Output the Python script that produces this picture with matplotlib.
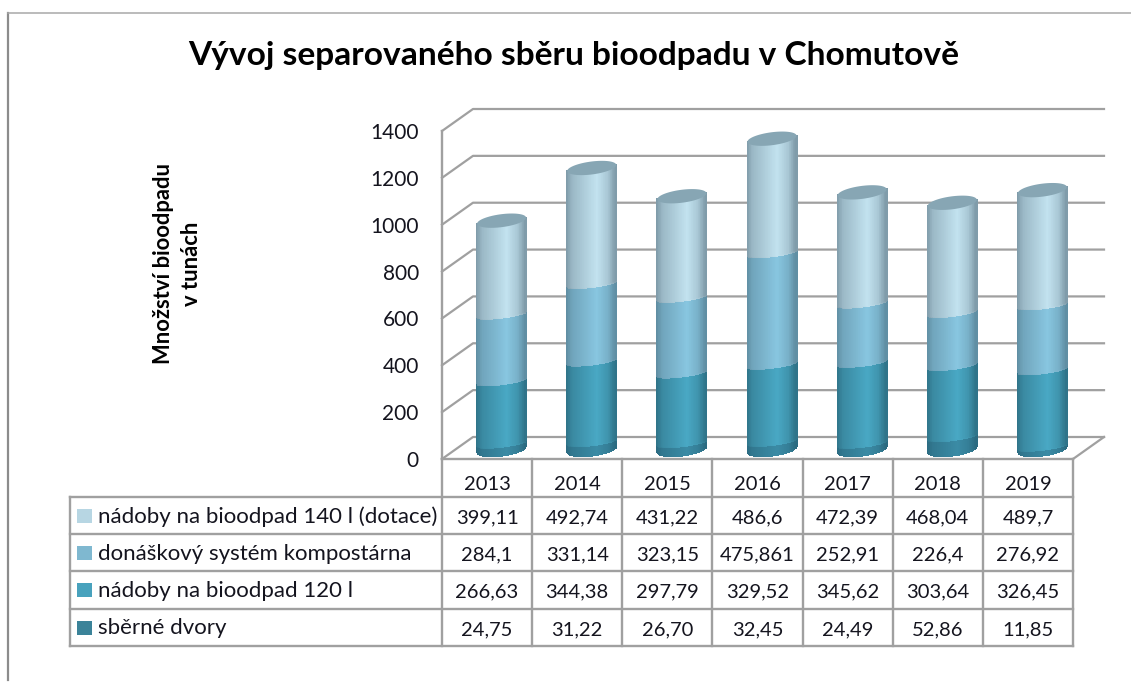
import numpy as np
import matplotlib
matplotlib.use('Agg')
import matplotlib.pyplot as plt
from matplotlib.colors import LinearSegmentedColormap

plt.rcParams['font.family'] = ['Lato', 'DejaVu Sans']

years = ['2013', '2014', '2015', '2016', '2017', '2018', '2019']
# table text, the bars are read from the same strings
dotace_140 = ['399,11', '492,74', '431,22', '486,6', '472,39', '468,04', '489,7']
kompostarna = ['284,1', '331,14', '323,15', '475,861', '252,91', '226,4', '276,92']
nadoby_120 = ['266,63', '344,38', '297,79', '329,52', '345,62', '303,64', '326,45']
sberne_dvory = ['24,75', '31,22', '26,70', '32,45', '24,49', '52,86', '11,85']

# top row of the table first
rows = [dotace_140, kompostarna, nadoby_120, sberne_dvory]
row_names = ['nádoby na bioodpad 140 l (dotace)', 'donáškový systém kompostárna',
             'nádoby na bioodpad 120 l', 'sběrné dvory']
swatches = ['#b7d6e3', '#7fb8d0', '#48a2bd', '#3b8399']
# edge colour, mid colour of each cylinder band
shades = [('#7e9aa8', '#c2e2ef'), ('#5f8da2', '#88c6e0'),
          ('#2f7388', '#49a8c4'), ('#2b6a80', '#3b8ba5')]

W, H = 1131, 698
GRID = '#a0a0a0'

fig = plt.figure(figsize=(W / 100, H / 100), dpi=100)

# page overlay in pixels, for the frame and the table
page = fig.add_axes([0, 0, 1, 1])
page.set_xlim(0, W)
page.set_ylim(H, 0)
page.axis('off')

page.plot([8, 8], [13, 680], color='#8c8c8c', lw=1.6)
page.plot([8, W], [13, 13], color='#a8a8a8', lw=1.1)

page.text(574, 56, 'Vývoj separovaného sběru bioodpadu v Chomutově',
          ha='center', va='center', fontsize=24.1, fontweight='bold', color='black')
page.text(164, 264, 'Množství bioodpadu', rotation=90, ha='center', va='center',
          fontsize=15.8, fontweight='bold', color='black')
page.text(191, 264, 'v tunách', rotation=90, ha='center', va='center',
          fontsize=15.8, fontweight='bold', color='black')

# table
col_x = np.linspace(442, 1073, len(years) + 1)
row_y = [497, 534, 571, 609, 646]
page.plot([442, 1073], [459, 459], color=GRID, lw=1.7, solid_capstyle='projecting')
for y in row_y:
    page.plot([70, 1073], [y, y], color=GRID, lw=1.7, solid_capstyle='projecting')
page.plot([70, 70], [row_y[0], row_y[-1]], color=GRID, lw=1.7)
for x in col_x:
    page.plot([x, x], [459, row_y[-1]], color=GRID, lw=1.7)

for i, yr in enumerate(years):
    page.text((col_x[i] + col_x[i + 1]) / 2, 485, yr, ha='center', va='center',
              fontsize=14.5, color='#14141e')
for r, vals in enumerate(rows):
    yc = (row_y[r] + row_y[r + 1]) / 2
    page.fill([77, 92, 92, 77], [yc - 7, yc - 7, yc + 7, yc + 7], color=swatches[r], lw=0)
    page.text(98, yc + 1, row_names[r], ha='left', va='center', fontsize=16, color='#14141e')
    for i, s in enumerate(vals):
        page.text((col_x[i] + col_x[i + 1]) / 2, yc + 2, s, ha='center', va='center',
                  fontsize=14.5, color='#14141e')

# chart axes sit on the front plane of the 3D box
ax = fig.add_axes([442 / W, (H - 459) / H, 631 / W, 328 / H])
ax.patch.set_alpha(0)
ax.set_xlim(-0.5, 6.5)
ax.set_ylim(0, 1400)
ax.set_xticks([])
ax.set_yticks(range(0, 1401, 200))
ax.tick_params(axis='y', length=0, pad=16.7, labelsize=15, labelcolor='#14141e')
for s in ['top', 'right', 'bottom']:
    ax.spines[s].set_visible(False)
ax.spines['left'].set_color(GRID)
ax.spines['left'].set_linewidth(1.7)

px_x = 631 / 7      # pixels per category
px_y = 328 / 1400   # pixels per tonne
depth_x = 31 / px_x
depth_y = 22 / px_y

# walls
x0, x1 = -0.5, 6.5
for v in range(0, 1401, 200):
    ax.plot([x0, x0 + depth_x, x1 + depth_x], [v, v + depth_y, v + depth_y],
            color=GRID, lw=1.6, clip_on=False, zorder=1)
ax.plot([x1, x1 + depth_x], [0, depth_y], color=GRID, lw=1.6, clip_on=False, zorder=1)

# cylinders, stacked from the bottom row of the table up
shift_x = 14.5 / px_x
shift_y = 10 / px_y
half_w = 24.5 / px_x
cap_h = 6.5 / px_y    # outer ends of the cylinder
band_h = 3.5 / px_y   # joins between bands look flatter
tilt = 3 / px_y
t = np.linspace(-1, 1, 71)
tc = (t[:-1] + t[1:]) / 2
# dark at both sides, brightest a bit right of the middle
shade = np.interp(tc, [-1, -0.75, 0.25, 0.7, 1], [0, 0.42, 1, 0.62, 0])


def arc(v, h):
    return v + shift_y + tilt * t - h * np.sqrt(1 - t ** 2)


for i in range(len(years)):
    bottom = 0.0
    for r in range(3, -1, -1):
        val = float(rows[r][i].replace(',', '.'))
        cm = LinearSegmentedColormap.from_list('band', shades[r])
        X = np.vstack([i + shift_x + half_w * t] * 2)
        low = arc(bottom, cap_h if r == 3 else band_h)
        high = arc(bottom + val, cap_h if r == 0 else band_h)
        ax.pcolormesh(X, np.vstack([low, high]), shade[np.newaxis, :], cmap=cm, vmin=0, vmax=1,
                      shading='flat', edgecolor='face', linewidth=0.2, clip_on=False, zorder=3)
        bottom += val
    # top cap
    ang = np.linspace(0, 2 * np.pi, 80)
    ax.fill(i + shift_x + half_w * np.cos(ang),
            bottom + shift_y + tilt * np.cos(ang) + cap_h * np.sin(ang),
            color='#87a6b4', lw=0, clip_on=False, zorder=4)

fig.savefig('out.png', dpi=100)
